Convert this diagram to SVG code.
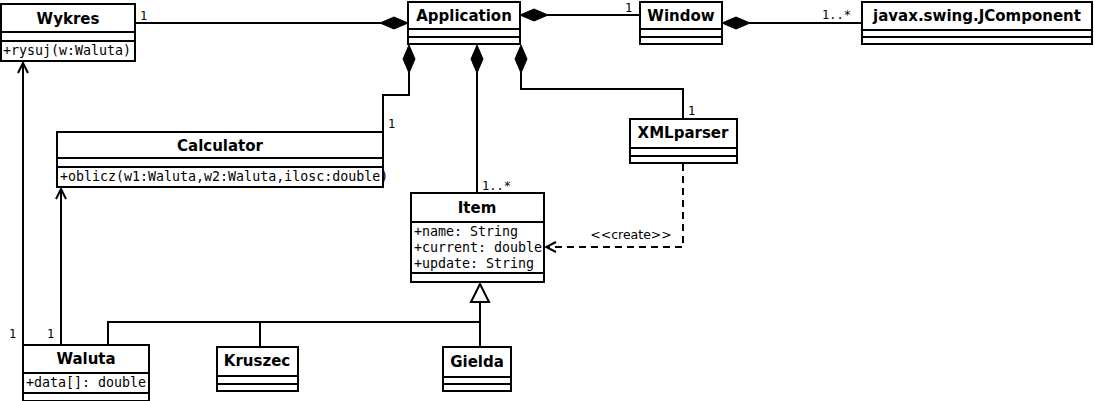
<svg xmlns="http://www.w3.org/2000/svg" width="1094" height="401" viewBox="0 0 1094 401">
<defs>
<style>
.box{fill:#fff;stroke:#000;stroke-width:2}
.sep{stroke:#000;stroke-width:2;fill:none}
.title{font-family:"DejaVu Sans",sans-serif;font-weight:bold;font-size:15px;text-anchor:middle;fill:#000}
.attr{font-family:"DejaVu Sans Mono",monospace;font-size:13.3px;fill:#000}
.lbl{font-family:"DejaVu Sans Mono",monospace;font-size:12px;fill:#000}
.st{font-family:"DejaVu Sans",sans-serif;font-size:12.5px;fill:#000;text-anchor:middle}
.ln{stroke:#000;stroke-width:2;fill:none}
.dash{stroke:#000;stroke-width:2;fill:none;stroke-dasharray:7,5}
.dia{fill:#000;stroke:#000;stroke-width:1}
.tri{fill:#fff;stroke:#000;stroke-width:2}
</style>
<marker id="open" viewBox="0 0 12 12" refX="11" refY="6" markerWidth="12" markerHeight="12" markerUnits="userSpaceOnUse" orient="auto">
<path d="M1,1 L11,6 L1,11" fill="none" stroke="#000" stroke-width="2"/>
</marker>
</defs>
<rect width="1094" height="401" fill="#fff"/>

<g id="connectors">
<line class="ln" x1="135" y1="23" x2="381" y2="23"/>
<polygon class="dia" points="408,23 394,17 380,23 394,29"/>
<line class="ln" x1="547" y1="15" x2="640" y2="15"/>
<polygon class="dia" points="520,15 534,9 548,15 534,21"/>
<line class="ln" x1="749" y1="23" x2="862" y2="23"/>
<polygon class="dia" points="722,23 736,17 750,23 736,29"/>
<polyline class="ln" points="409,72 409,95 383,95 383,132"/>
<polygon class="dia" points="409,45 403,59 409,73 415,59"/>
<line class="ln" x1="477" y1="72" x2="477" y2="193"/>
<polygon class="dia" points="477,45 471,59 477,73 483,59"/>
<polyline class="ln" points="521,72 521,89 683,89 683,119"/>
<polygon class="dia" points="521,45 515,59 521,73 527,59"/>
<polyline class="dash" points="683,164 683,247 546,247" marker-end="url(#open)"/>
<line class="ln" x1="23" y1="345" x2="23" y2="63" marker-end="url(#open)"/>
<line class="ln" x1="61" y1="345" x2="61" y2="189" marker-end="url(#open)"/>
<polyline class="ln" points="108,345 108,322 480,322"/>
<line class="ln" x1="260" y1="347" x2="260" y2="322"/>
<line class="ln" x1="480" y1="347" x2="480" y2="302"/>
<polygon class="tri" points="480,284 471,302 489,302"/>
<text class="lbl" x="140" y="20">1</text>
<text class="lbl" x="625" y="12">1</text>
<text class="lbl" x="822" y="19">1..*</text>
<text class="lbl" x="388" y="128">1</text>
<text class="lbl" x="688" y="115">1</text>
<text class="lbl" x="482" y="190">1..*</text>
<text class="lbl" x="9" y="338">1</text>
<text class="lbl" x="47" y="338">1</text>
<text class="st" x="631" y="239">&lt;&lt;create&gt;&gt;</text>
</g>

<g id="Wykres">
<rect class="box" x="1" y="4" width="134" height="57"/>
<line class="sep" x1="1" y1="32" x2="135" y2="32"/>
<line class="sep" x1="1" y1="41" x2="135" y2="41"/>
<text class="title" x="68" y="24">Wykres</text>
<text class="attr" x="3" y="55">+rysuj(w:Waluta)</text>
</g>

<g id="Application">
<rect class="box" x="408" y="2" width="112" height="42"/>
<line class="sep" x1="408" y1="29" x2="520" y2="29"/>
<line class="sep" x1="408" y1="37" x2="520" y2="37"/>
<text class="title" x="464" y="21">Application</text>
</g>

<g id="Window">
<rect class="box" x="640" y="2" width="82" height="42"/>
<line class="sep" x1="640" y1="29" x2="722" y2="29"/>
<line class="sep" x1="640" y1="37" x2="722" y2="37"/>
<text class="title" x="681" y="21">Window</text>
</g>

<g id="JComponent">
<rect class="box" x="862" y="2" width="230" height="42"/>
<line class="sep" x1="862" y1="30" x2="1092" y2="30"/>
<line class="sep" x1="862" y1="37" x2="1092" y2="37"/>
<text class="title" x="977" y="21">javax.swing.JComponent</text>
</g>

<g id="Calculator">
<rect class="box" x="57" y="132" width="326" height="55"/>
<line class="sep" x1="57" y1="158" x2="383" y2="158"/>
<line class="sep" x1="57" y1="167" x2="383" y2="167"/>
<text class="title" x="220" y="151">Calculator</text>
<text class="attr" x="60" y="181">+oblicz(w1:Waluta,w2:Waluta,ilosc:double)</text>
</g>

<g id="XMLparser">
<rect class="box" x="630" y="119" width="107" height="44"/>
<line class="sep" x1="630" y1="148" x2="737" y2="148"/>
<line class="sep" x1="630" y1="156" x2="737" y2="156"/>
<text class="title" x="683" y="138">XMLparser</text>
</g>

<g id="Item">
<rect class="box" x="411" y="193" width="133" height="89"/>
<line class="sep" x1="411" y1="222" x2="544" y2="222"/>
<line class="sep" x1="411" y1="273" x2="544" y2="273"/>
<text class="title" x="477" y="213">Item</text>
<text class="attr" x="414" y="236">+name: String</text>
<text class="attr" x="414" y="252">+current: double</text>
<text class="attr" x="414" y="268">+update: String</text>
</g>

<g id="Waluta">
<rect class="box" x="23" y="345" width="126" height="56"/>
<line class="sep" x1="23" y1="373" x2="149" y2="373"/>
<line class="sep" x1="23" y1="393" x2="149" y2="393"/>
<text class="title" x="86" y="364">Waluta</text>
<text class="attr" x="26" y="387">+data[]: double</text>
</g>

<g id="Kruszec">
<rect class="box" x="217" y="347" width="81" height="44"/>
<line class="sep" x1="217" y1="376" x2="298" y2="376"/>
<line class="sep" x1="217" y1="384" x2="298" y2="384"/>
<text class="title" x="257" y="366">Kruszec</text>
</g>

<g id="Gielda">
<rect class="box" x="443" y="347" width="68" height="44"/>
<line class="sep" x1="443" y1="377" x2="511" y2="377"/>
<line class="sep" x1="443" y1="384" x2="511" y2="384"/>
<text class="title" x="477" y="367">Gielda</text>
</g>
</svg>
